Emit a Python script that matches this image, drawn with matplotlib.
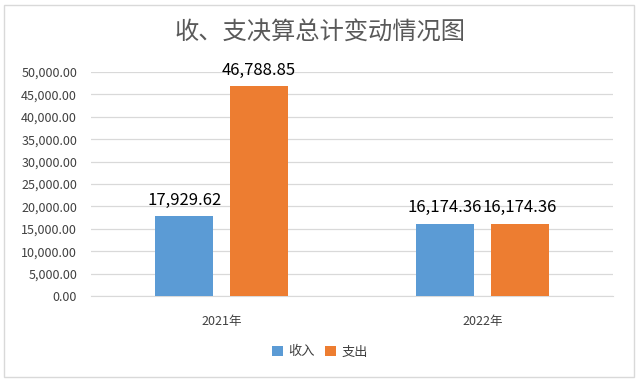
import matplotlib
matplotlib.use("Agg")
import matplotlib.pyplot as plt
from matplotlib.patches import Rectangle
import numpy as np

plt.rcParams["font.family"] = ["Noto Sans CJK SC", "DejaVu Sans"]

years = ["2021年", "2022年"]
income = [17929.62, 16174.36]
expense = [46788.85, 16174.36]
series_names = ["收入", "支出"]
colors = ["#5b9bd5", "#ed7d31"]

fig = plt.figure(figsize=(6.4, 3.84), dpi=100)
fig.patches.append(Rectangle((4 / 640, 1 - 377 / 384), 630 / 640, 372 / 384,
                             transform=fig.transFigure, fill=False,
                             edgecolor="#d9d9d9", lw=1.0))
ax = fig.add_axes([91 / 640, 1 - 296 / 384, 522 / 640, 224 / 384])

x = np.arange(len(years))
w = 0.222
off = 0.143
for vals, name, c, sgn in zip([income, expense], series_names, colors, [-1, 1]):
    bars = ax.bar(x + sgn * off, vals, width=w, color=c, label=name, zorder=3)
    for b, v in zip(bars, vals):
        ax.text(b.get_x() + b.get_width() / 2, v + 1600, f"{v:,.2f}",
                ha="center", va="bottom", fontsize=12, color="#000000")

ax.set_xlim(-0.5, 1.5)
ax.set_ylim(0, 50000)
ax.set_yticks(np.arange(0, 50001, 5000))
ax.set_yticklabels([f"{v:,.2f}" for v in np.arange(0, 50001, 5000)])
ax.set_xticks(x)
ax.set_xticklabels(years)
ax.tick_params(axis="both", length=0, labelsize=9, colors="#404040")
ax.tick_params(axis="x", pad=14)
ax.tick_params(axis="y", pad=10)
ax.grid(axis="y", color="#d9d9d9", lw=0.9, zorder=0)
for s in ["top", "right", "left"]:
    ax.spines[s].set_visible(False)
ax.spines["bottom"].set_color("#d9d9d9")

fig.text(0.5, 1 - 33 / 384, "收、支决算总计变动情况图", ha="center", va="center",
         fontsize=17.5, color="#595959")
fig.legend(loc="center", bbox_to_anchor=(0.5, 1 - 352 / 384), ncol=2, frameon=False,
           fontsize=9.5, handlelength=0.8, handleheight=0.8, handletextpad=0.4,
           columnspacing=0.8, labelcolor="#404040")

fig.savefig("out.png", dpi=100)
